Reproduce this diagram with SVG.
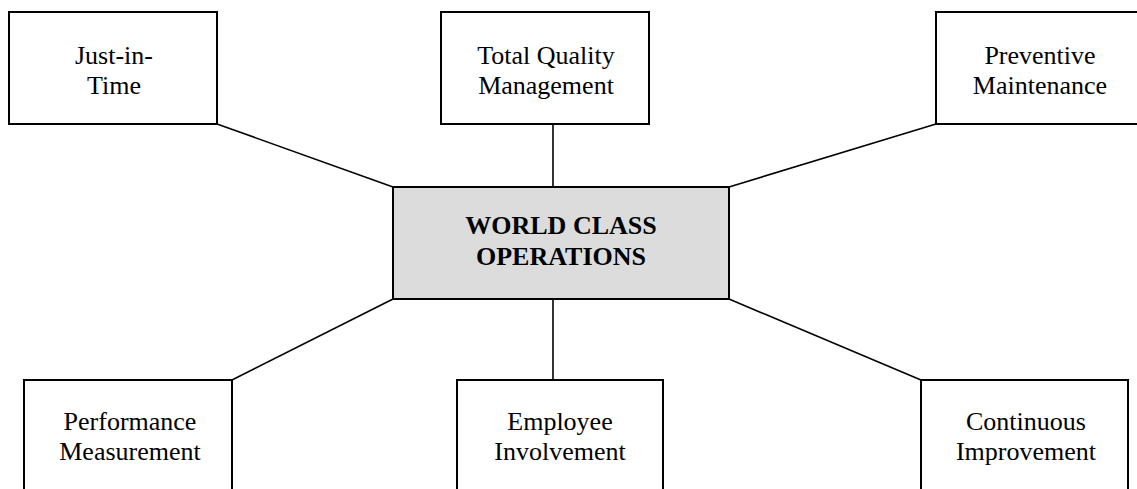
<svg xmlns="http://www.w3.org/2000/svg" width="1137" height="489" viewBox="0 0 1137 489">
<style>
.box{fill:#fff;stroke:#000;stroke-width:2}
.center{fill:#dcdcdc;stroke:#000;stroke-width:2}
.t{font-family:"Liberation Serif","Times New Roman",serif;font-size:26px;fill:#000;text-anchor:middle}
.b{font-weight:bold}
.c line{stroke:#000;stroke-width:1.6}
</style>
<rect width="1137" height="489" fill="#fff"/>
<g class="c" id="connectors">
<line x1="217" y1="124" x2="393" y2="187"/>
<line x1="553" y1="124" x2="553" y2="187"/>
<line x1="936" y1="124" x2="729" y2="187"/>
<line x1="232" y1="380" x2="393" y2="299"/>
<line x1="553" y1="299" x2="553" y2="380"/>
<line x1="921" y1="380" x2="729" y2="299"/>
</g>
<g id="jit">
<rect class="box" x="9" y="12" width="208" height="112"/>
<text class="t" x="114" y="64">Just-in-</text>
<text class="t" x="114" y="94">Time</text>
</g>
<g id="tqm">
<rect class="box" x="441" y="12" width="208" height="112"/>
<text class="t" x="546" y="64">Total Quality</text>
<text class="t" x="546" y="94">Management</text>
</g>
<g id="pm">
<rect class="box" x="936" y="12" width="208" height="112"/>
<text class="t" x="1040" y="64">Preventive</text>
<text class="t" x="1040" y="94">Maintenance</text>
</g>
<g id="wco">
<rect class="center" x="393" y="187" width="336" height="112"/>
<text class="t b" x="561" y="234">WORLD CLASS</text>
<text class="t b" x="561" y="265">OPERATIONS</text>
</g>
<g id="perf">
<rect class="box" x="24" y="380" width="208" height="130"/>
<text class="t" x="130" y="430">Performance</text>
<text class="t" x="130" y="460">Measurement</text>
</g>
<g id="emp">
<rect class="box" x="457" y="380" width="206" height="130"/>
<text class="t" x="560" y="430">Employee</text>
<text class="t" x="560" y="460">Involvement</text>
</g>
<g id="ci">
<rect class="box" x="921" y="380" width="207" height="130"/>
<text class="t" x="1026" y="430">Continuous</text>
<text class="t" x="1026" y="460">Improvement</text>
</g>
</svg>
